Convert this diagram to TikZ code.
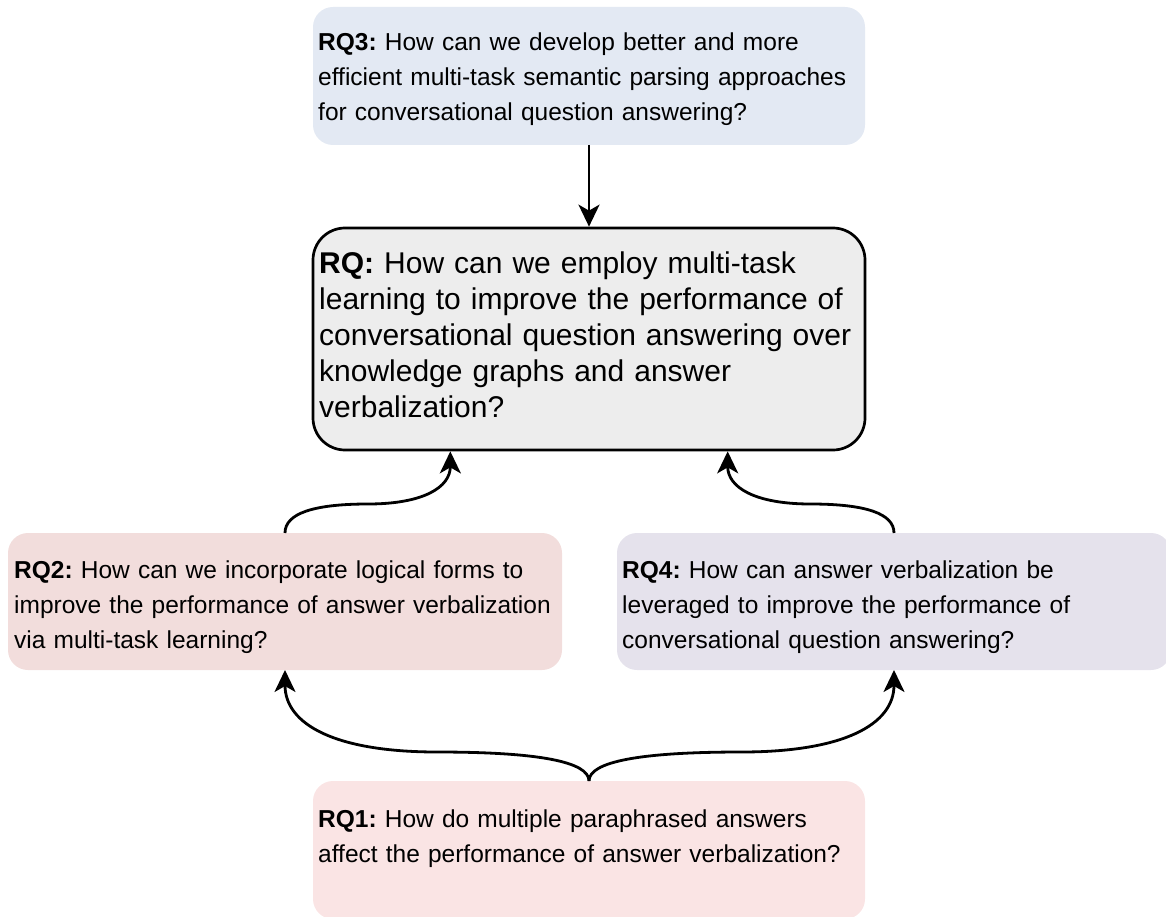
\documentclass[tikz,border=0pt]{standalone}
\usepackage{fontspec}
\setmainfont{Liberation Sans}
\usetikzlibrary{arrows.meta,calc}
\frenchspacing

\definecolor{rqthreefill}{RGB}{227,233,243}
\definecolor{rqmainfill}{RGB}{237,237,237}
\definecolor{rqtwofill}{RGB}{242,221,220}
\definecolor{rqfourfill}{RGB}{229,226,236}
\definecolor{rqonefill}{RGB}{250,228,228}

\begin{document}
\begin{tikzpicture}[x=1pt,y=-1pt,
  box/.style={inner sep=0pt, outer sep=0pt, rounded corners=20pt,
              minimum width=552pt, minimum height=138pt},
  mainbox/.style={draw=black, line width=2.7pt, rounded corners=32pt,
              fill=rqmainfill, inner sep=0pt,
              minimum width=552pt, minimum height=222pt},
  txt/.style={anchor=base west, inner sep=0pt, text width=620pt, align=left,
              font=\fontsize{24.5}{35}\selectfont},
  bigtxt/.style={txt, font=\fontsize{30}{36}\selectfont},
  arr/.style={line width=2.8pt, -{Stealth[length=22pt,width=21pt,inset=6pt]}}
]
\useasboundingbox (0,0) rectangle (1166,917);

% boxes
\node[box, fill=rqthreefill] (rq3) at (589,76) {};
\node[mainbox] (rq) at (589,339) {};
\node[box, fill=rqtwofill, minimum width=554pt, minimum height=137pt] (rq2) at (285,601.5) {};
\node[box, fill=rqfourfill, minimum width=554pt, minimum height=137pt] (rq4) at (894,601.5) {};
\node[box, fill=rqonefill] (rq1) at (589,850) {};

% texts
\node[txt] (t3) at (318,51) {\textbf{RQ3:} How can we develop better and more\\
efficient multi-task semantic parsing approaches\\
for conversational question answering?};
\node[bigtxt] (t0) at (319,273) {\textbf{RQ:} How can we employ multi-task\\
learning to improve the performance of\\
conversational question answering over\\
knowledge graphs and answer\\
verbalization?};
\node[txt] (t2) at (14,578) {\textbf{RQ2:} How can we incorporate logical forms to\\
improve the performance of answer verbalization\\
via multi-task learning?};
\node[txt] (t4) at (622,578) {\textbf{RQ4:} How can answer verbalization be\\
leveraged to improve the performance of\\
conversational question answering?};
\node[txt] (t1) at (318,827) {\textbf{RQ1:} How do multiple paraphrased answers\\
affect the performance of answer verbalization?};

% connection points
\coordinate (inleft) at ($(rq.south west)!0.25!(rq.south east)$);
\coordinate (inright) at ($(rq.south west)!0.75!(rq.south east)$);
\coordinate (midleft) at (368,504);
\coordinate (midright) at (810.5,504);
\coordinate (forkleft) at (437,752);
\coordinate (forkright) at (741.5,752);

% connectors
\draw[arr] (rq3.south) -- (rq.north);
\draw[arr] (rq2.north) .. controls +(0,-19.3) and +(-55.3,0) .. (midleft)
  .. controls +(55.3,0) and +(0,36) .. (inleft);
\draw[arr] (rq4.north) .. controls +(0,-19.3) and +(55.7,0) .. (midright)
  .. controls +(-55.7,0) and +(0,36) .. (inright);
\draw[arr] (rq1.north) .. controls +(0,-19.3) and +(101.3,0) .. (forkleft)
  .. controls +(-101.3,0) and +(0,54.7) .. (rq2.south);
\draw[arr] (rq1.north) .. controls +(0,-19.3) and +(-101.7,0) .. (forkright)
  .. controls +(101.7,0) and +(0,54.7) .. (rq4.south);
\end{tikzpicture}
\end{document}
